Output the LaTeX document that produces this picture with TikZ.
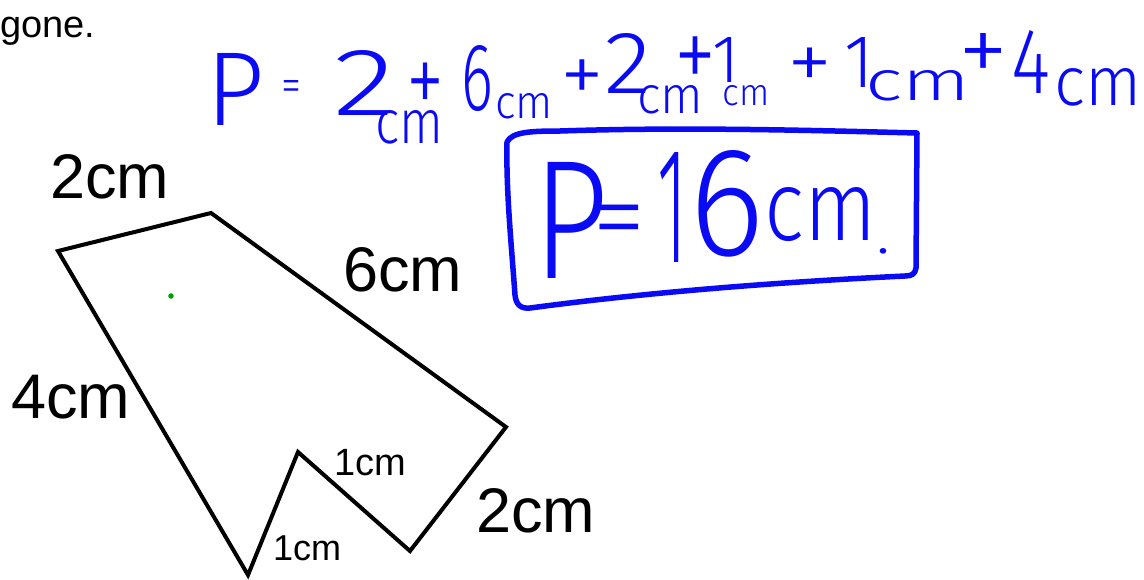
\documentclass[tikz,border=0pt]{standalone}
\usepackage{fontspec}
\setmainfont{Liberation Sans}
\IfFontExistsTF{Fira Sans Light}{\newfontfamily\penfont{Fira Sans Light}}{%
  \IfFontExistsTF{FiraSans-Light.otf}{\newfontfamily\penfont{FiraSans-Light.otf}}{%
    \newfontfamily\penfont{Liberation Sans}}}
\usepackage{graphicx}
\definecolor{penblue}{RGB}{10,10,245}
\definecolor{dotgreen}{RGB}{0,160,0}
\newcommand\handw[3]{\resizebox{#1pt}{#2pt}{\penfont #3}}
\newcommand\ox{0}
\newcommand\oy{0}
\newcommand\pieceat[5]{\rlap{\hspace*{\dimexpr #1pt-\ox pt\relax}\raisebox{\dimexpr \oy pt-#2pt\relax}{\handw{#3}{#4}{#5}}}}
\tikzset{
  hw/.style={anchor=base west, inner sep=0pt, text=penblue},
  biglabel/.style={anchor=base west, inner sep=0pt, font=\fontsize{63}{63}\selectfont},
  shapeline/.style={line width=4pt, line join=miter, draw=black},
  penline/.style={line width=5.5pt, draw=penblue, line cap=round, line join=round}
}
\begin{document}
\begin{tikzpicture}[x=1pt,y=-1pt]
\useasboundingbox (0,0) rectangle (1144,579);
\fill[white] (0,0) rectangle (1144,579);

% top-left text
\node[anchor=base west, inner sep=0pt, font=\fontsize{38}{38}\selectfont] (gone) at (0,37) {gone.};

% polygon
\coordinate (A) at (58,251);
\coordinate (B) at (211,213);
\coordinate (C) at (506,427);
\coordinate (D) at (410,551);
\coordinate (E) at (298,452);
\coordinate (F) at (248,575);
\draw[shapeline] (A) -- (B) -- (C) -- (D) -- (E) -- (F) -- cycle;

% green dot
\fill[dotgreen] (171,296) circle (2.8pt);

% side labels
\node[biglabel] (l2top) at (50,198) {2cm};
\node[biglabel] (l6) at (343,291) {6cm};
\node[biglabel] (l4) at (11,418) {4cm};
\node[biglabel] (l2bot) at (476,532) {2cm};
\node[anchor=base west, inner sep=0pt, font=\fontsize{38}{38}\selectfont] (l1up) at (334,475) {1cm};
\node[anchor=base west, inner sep=0pt, font=\fontsize{36}{36}\selectfont] (l1low) at (273,560) {1cm};

% handwritten equation (one text, pieces placed at absolute positions)
\renewcommand\ox{206}\renewcommand\oy{125}
\node[hw] (equation) at (206,125) {%
  \pieceat{206}{125}{58}{72}{P}%
  \pieceat{281.4}{101}{20}{21}{=}%
  \pieceat{333.6}{115}{62}{65}{2}%
  \pieceat{375}{143}{68}{33}{cm}%
  \pieceat{406}{115.5}{38}{52.5}{+}%
  \pieceat{461.3}{110}{31.8}{65}{6}%
  \pieceat{495.3}{118}{57.6}{25}{cm}%
  \pieceat{560.7}{103.7}{43.7}{43.7}{+}%
  \pieceat{604.5}{93}{47}{60}{2}%
  \pieceat{637}{113}{66}{28}{cm}%
  \pieceat{674}{90.7}{42}{53.7}{+}%
  \pieceat{712}{82}{27}{45}{1}%
  \pieceat{722.6}{105}{46.8}{20}{cm}%
  \pieceat{787.6}{90.5}{45}{42.5}{+}%
  \pieceat{844}{87}{29.5}{50}{1}%
  \pieceat{865}{100}{105}{30}{cm}%
  \pieceat{958}{83}{50}{50}{+}%
  \pieceat{1011}{93}{39}{63}{4}%
  \pieceat{1054.4}{105}{87}{37}{cm}%
  \hspace*{930pt}};

% boxed result
\draw[penline] (507,142) .. controls (512,132) and (530,131) .. (560,131)
  .. controls (680,127) and (800,130) .. (917,133)
  -- (916,268) .. controls (915,274) and (912,276) .. (905,276)
  .. controls (780,282) and (650,292) .. (530,308)
  .. controls (520,309) and (516,304) .. (515,295)
  .. controls (511,240) and (506,190) .. (507,142);
\renewcommand\ox{533}\renewcommand\oy{278}
\node[hw] (result) at (533,278) {%
  \pieceat{533}{278}{75}{116}{P}%
  \pieceat{592.7}{253.4}{53.6}{48.4}{=}%
  \pieceat{657}{262}{30}{110}{1}%
  \pieceat{689}{255}{75}{105}{6}%
  \pieceat{764.6}{240}{112}{53}{cm}%
  \pieceat{876}{253}{14}{5}{.}%
  \hspace*{360pt}};
\end{tikzpicture}
\end{document}
